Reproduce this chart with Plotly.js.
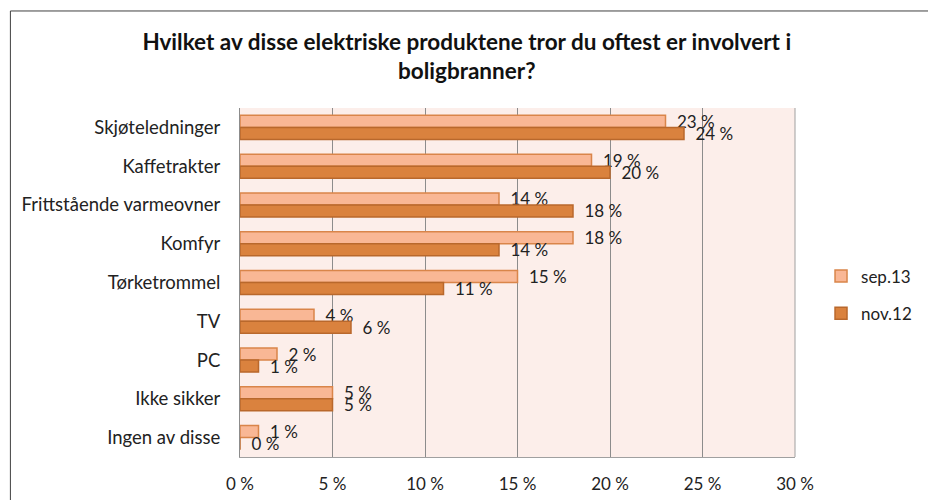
<!DOCTYPE html>
<html>
<head>
<meta charset="utf-8">
<script src="https://cdn.plot.ly/plotly-3.0.1.min.js"></script>
<style>
  html, body { margin: 0; padding: 0; background: #fff; }
  #graph { width: 928px; height: 500px; }
</style>
</head>
<body>
<div id="graph"></div>
<script>
// Categories, top to bottom
const categories = [
    'Skjøteledninger',
    'Kaffetrakter',
    'Frittstående varmeovner',
    'Komfyr',
    'Tørketrommel',
    'TV',
    'PC',
    'Ikke sikker',
    'Ingen av disse'
];

// Share of answers, percent
const sep13 = [23, 19, 14, 18, 15, 4, 2, 5, 1];
const nov12 = [24, 20, 18, 14, 11, 6, 1, 5, 0];

const xTicks = [0, 5, 10, 15, 20, 25, 30];
const xTickLabels = xTicks.map(v => v + ' %');

const font = 'Lato, "Open Sans", sans-serif';

function barTrace(name, values, fill, edge) {
    return {
        type: 'bar',
        orientation: 'h',
        name: name,
        legendgroup: name,
        x: values,
        y: categories,
        // en space keeps the label a little off the bar end, as in Excel
        text: values.map(v => '\u2002' + v + ' %'),
        textposition: 'outside',
        constraintext: 'none',
        cliponaxis: false,
        textfont: { family: font, size: 17, color: '#222' },
        marker: { color: fill, line: { color: edge, width: 1.5 } },
        hoverinfo: 'x+y'
    };
}

const traces = [
    barTrace('sep.13', sep13, '#F9B795', '#D9854A'),
    barTrace('nov.12', nov12, '#DA823E', '#B9682C')
];

const layout = {
    width: 928,
    height: 500,
    margin: { l: 240, r: 132, t: 108, b: 43 },
    paper_bgcolor: '#ffffff',
    plot_bgcolor: '#FCEEEA',
    font: { family: font, size: 17, color: '#222' },
    title: {
        text: '<b>Hvilket av disse elektriske produktene tror du oftest er involvert i<br>boligbranner?</b>',
        font: { family: font, size: 22.5, color: '#111' },
        x: 0.503,
        xanchor: 'center',
        y: 0.90,
        yanchor: 'top'
    },
    barmode: 'group',
    bargap: 0.38,
    bargroupgap: 0,
    xaxis: {
        range: [0, 30],
        tickvals: xTicks,
        ticktext: xTickLabels,
        showgrid: true,
        gridcolor: '#8c8c8c',
        gridwidth: 1,
        zeroline: false,
        showline: true,
        linecolor: '#a0a0a0',
        ticks: '',
        ticklabelstandoff: 12,
        tickfont: { family: font, size: 17, color: '#222' },
        fixedrange: true
    },
    yaxis: {
        autorange: 'reversed',
        showline: true,
        linecolor: '#8c8c8c',
        ticks: '',
        ticklabelstandoff: 15,
        tickfont: { family: font, size: 18.5, color: '#222' },
        fixedrange: true
    },
    legend: {
        x: 1.045,
        y: 0.464,
        xanchor: 'left',
        yanchor: 'middle',
        traceorder: 'grouped',
        font: { family: font, size: 17, color: '#222' },
        itemwidth: 30,
        tracegroupgap: 12
    },
    shapes: [
        {
            type: 'line', xref: 'paper', yref: 'paper',
            x0: 1, x1: 1, y0: 0, y1: 1,
            line: { color: '#a0a0a0', width: 1 }
        },
        {
            type: 'rect', xref: 'paper', yref: 'paper',
            x0: -0.4137, x1: 1.3, y0: -0.2, y1: 1.278,
            line: { color: '#404040', width: 1 },
            layer: 'below'
        }
    ],
    showlegend: true
};

Plotly.newPlot('graph', traces, layout, { displayModeBar: false, staticPlot: true });
</script>
</body>
</html>
